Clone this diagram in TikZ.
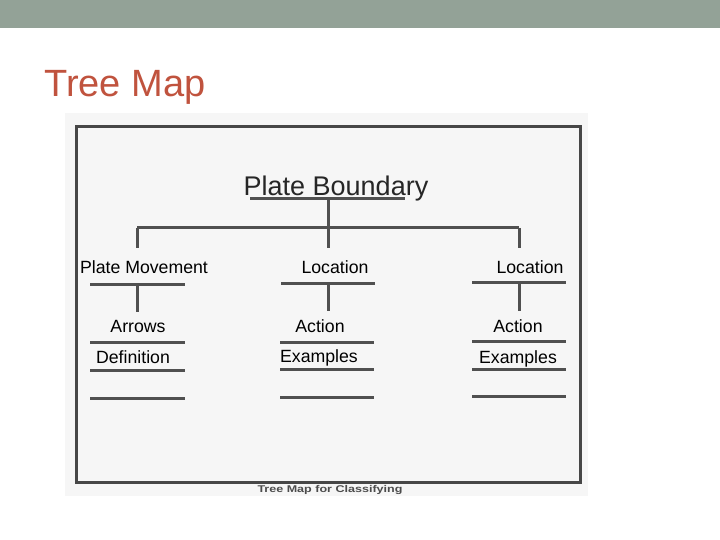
\documentclass[tikz,border=0pt]{standalone}
\usepackage{fontspec}
\setmainfont{Liberation Sans}
\usepackage{xcolor}
\definecolor{BandGray}{HTML}{93A297}
\definecolor{TitleRed}{HTML}{C0533E}
\definecolor{ScanGray}{HTML}{F6F6F6}
\definecolor{InkGray}{HTML}{505050}

\tikzset{
    rule/.style={line width=3pt, draw=InkGray},
    entry/.style={font=\fontsize{17.7}{20}\selectfont, inner sep=0pt, anchor=base, text=black}
}

\begin{document}
\begin{tikzpicture}[x=1pt, y=-1pt]
    \useasboundingbox (0,0) rectangle (720,540);
    % Reference coordinates
    \coordinate (pbL) at (250,199);
    \coordinate (pbR) at (405,199);
    \coordinate (pbmid) at (328,199);
    \coordinate (fork) at (328,228);
    \coordinate (forkL) at (137,228);
    \coordinate (forkR) at (519,228);
    \coordinate (topL) at (137,248);
    \coordinate (topM) at (328,248);
    \coordinate (topR) at (519,248);
    \coordinate (stemL) at (137,283);
    \coordinate (stemM) at (328,283);
    \coordinate (stemR) at (519,283);
    \coordinate (footL) at (137,312);
    \coordinate (footM) at (328,311);
    \coordinate (footR) at (519,311);
    % Slide band and title
    \fill[BandGray] (0,0) rectangle (720,28);
    \node[anchor=base west, inner sep=0pt, text=TitleRed, font=\fontsize{38}{40}\selectfont] (title) at (44,97) {Tree Map};
    % Scanned sheet and frame
    \fill[ScanGray] (65,113) rectangle (588,496);
    \draw[line width=3pt, draw=black!72] (76.5,126.5) rectangle (580.5,482);
    \node[inner sep=0pt, text=black!70, xscale=1.28, font=\bfseries\fontsize{9.8}{11}\selectfont] (caption) at (330,490) {Tree Map for Classifying};
    % Main topic
    \node[entry, font=\fontsize{27}{30}\selectfont, text=black!85] (pb) at (336,196) {Plate Boundary};
    \draw[rule] (pbL) -- (pbR);
    % Branches
    \draw[rule] (pbmid) -- (fork);
    \draw[rule] (forkL) -- (forkR);
    \draw[rule] (forkL) -- (topL);
    \draw[rule] (fork) -- (topM);
    \draw[rule] (forkR) -- (topR);
    % Left column
    \node[entry] (move) at (144,273) {Plate Movement};
    \node[entry] (arrows) at (138,332) {Arrows};
    \node[entry] (defn) at (133,363) {Definition};
    \draw[rule] (90,284) -- (185,284);
    \draw[rule] (stemL) -- (footL);
    \draw[rule] (90,342) -- (185,342);
    \draw[rule] (90,370) -- (185,370);
    \draw[rule] (90,398) -- (185,398);
    % Middle column
    \node[entry] (locM) at (335,273) {Location};
    \node[entry] (actM) at (320,332) {Action};
    \node[entry] (exM) at (319,362) {Examples};
    \draw[rule] (281,283) -- (375,283);
    \draw[rule] (stemM) -- (footM);
    \draw[rule] (280,342) -- (374,342);
    \draw[rule] (280,369) -- (374,369);
    \draw[rule] (280,397) -- (374,397);
    % Right column
    \node[entry] (locR) at (530,273) {Location};
    \node[entry] (actR) at (518,332) {Action};
    \node[entry] (exR) at (518,363) {Examples};
    \draw[rule] (472,282) -- (566,282);
    \draw[rule] (stemR) -- (footR);
    \draw[rule] (472,341) -- (566,341);
    \draw[rule] (472,369) -- (566,369);
    \draw[rule] (472,396) -- (566,396);
\end{tikzpicture}
\end{document}
